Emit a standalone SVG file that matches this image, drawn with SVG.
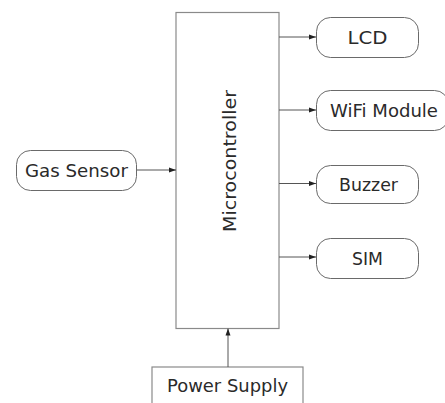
<svg xmlns="http://www.w3.org/2000/svg" width="445" height="403" viewBox="0 0 445 403">
<style>
.box{fill:#fff;stroke:#8a8a8a;stroke-width:1.2}
.rnd{fill:#fff;stroke:#6a6a6a;stroke-width:1}
.lbl{font-family:"DejaVu Sans","Liberation Sans",sans-serif;font-size:17px;fill:#2a2a2a;text-anchor:middle}
.conn line{stroke:#555;stroke-width:1}
</style>
<defs>
<marker id="ah" markerWidth="7" markerHeight="6" refX="7" refY="3" orient="auto" markerUnits="userSpaceOnUse">
<path d="M0,0.5 L7,3 L0,5.5 Z" fill="#222"/>
</marker>
</defs>
<rect width="445" height="403" fill="#fff"/>
<g id="microcontroller">
<rect class="box" x="176" y="12.5" width="103" height="316"/>
<text class="lbl" transform="translate(236,161) rotate(-90)" textLength="142" lengthAdjust="spacingAndGlyphs">Microcontroller</text>
</g>
<g id="lcd">
<rect class="rnd" x="316.5" y="17.5" width="102" height="40" rx="14"/>
<text class="lbl" x="367.5" y="43.5" textLength="40" lengthAdjust="spacingAndGlyphs">LCD</text>
</g>
<g id="wifi">
<rect class="rnd" x="316.5" y="90.5" width="132" height="40" rx="14"/>
<text class="lbl" x="384" y="116.5" textLength="108" lengthAdjust="spacingAndGlyphs">WiFi Module</text>
</g>
<g id="buzzer">
<rect class="rnd" x="316.5" y="165.5" width="102" height="38" rx="14"/>
<text class="lbl" x="368.5" y="190.5" textLength="59" lengthAdjust="spacingAndGlyphs">Buzzer</text>
</g>
<g id="sim">
<rect class="rnd" x="316.5" y="238.5" width="102" height="40" rx="14"/>
<text class="lbl" x="367.5" y="264.5" textLength="31" lengthAdjust="spacingAndGlyphs">SIM</text>
</g>
<g id="gas-sensor">
<rect class="rnd" x="16.5" y="150.5" width="120" height="40" rx="14"/>
<text class="lbl" x="76.5" y="176.5" textLength="103" lengthAdjust="spacingAndGlyphs">Gas Sensor</text>
</g>
<g id="power-supply">
<rect class="box" x="152" y="367" width="151" height="50"/>
<text class="lbl" x="227.5" y="391.5" textLength="121" lengthAdjust="spacingAndGlyphs">Power Supply</text>
</g>
<g id="connectors" class="conn">
<line x1="279" y1="37" x2="316" y2="37" marker-end="url(#ah)"/>
<line x1="279" y1="110" x2="316" y2="110" marker-end="url(#ah)"/>
<line x1="279" y1="183.5" x2="316" y2="183.5" marker-end="url(#ah)"/>
<line x1="279" y1="257" x2="316" y2="257" marker-end="url(#ah)"/>
<line x1="137" y1="170" x2="176" y2="170" marker-end="url(#ah)"/>
<line x1="228" y1="367" x2="228" y2="328.5" marker-end="url(#ah)"/>
</g>
</svg>
